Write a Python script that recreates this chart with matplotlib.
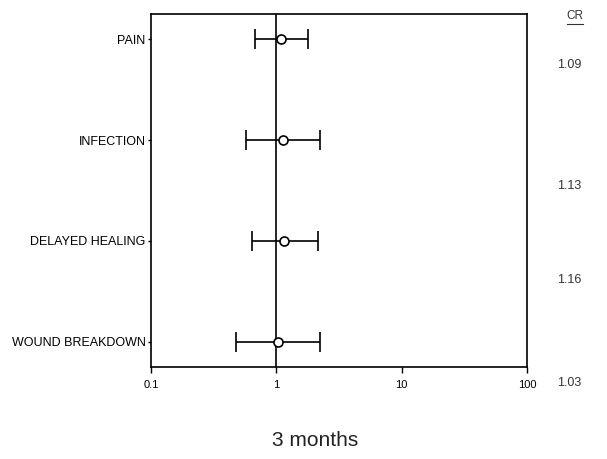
import matplotlib
matplotlib.use("Agg")
import matplotlib.pyplot as plt

plt.rcParams['font.family'] = ['Liberation Sans', 'DejaVu Sans']

# Data
categories = ["PAIN", "INFECTION", "DELAYED HEALING", "WOUND BREAKDOWN"]
odds_ratio = [1.09, 1.13, 1.16, 1.03]
ci_lower = [0.68, 0.575, 0.64, 0.48]
ci_upper = [1.80, 2.25, 2.13, 2.21]
cr_labels = ["1.09", "1.13", "1.16", "1.03"]
x_ticks = [0.1, 1, 10, 100]
x_tick_labels = ["0.1", "1", "10", "100"]
title_text = "3 months"

# layout offsets (rows) for the CR column
cr_offsets = [0.26, 0.46, 0.39, 0.41]

fig = plt.figure(figsize=(6.07, 4.59), dpi=100)
ax = fig.add_axes([0.2488, 0.2004, 0.6194, 0.7691])

ypos = list(range(len(categories)))
xerr = [[o - l for o, l in zip(odds_ratio, ci_lower)],
        [u - o for o, u in zip(odds_ratio, ci_upper)]]

ax.axvline(1, color='black', lw=1.2, zorder=1)
ax.errorbar(odds_ratio, ypos, xerr=xerr, fmt='o', color='black',
            ecolor='black', elinewidth=1.2, capsize=7.5, capthick=1.2,
            markerfacecolor='white', markeredgecolor='black',
            markersize=6.5, markeredgewidth=1.2, zorder=3)

ax.set_xscale('log')
ax.set_xlim(0.1, 100)
ax.set_ylim(3.25, -0.25)
ax.set_xticks(x_ticks)
ax.set_xticklabels(x_tick_labels, fontsize=8)
ax.minorticks_off()
ax.set_yticks(ypos)
ax.set_yticklabels(categories, fontsize=9)
ax.tick_params(axis='x', direction='out', length=4, width=1, pad=5)
ax.tick_params(axis='y', direction='out', length=2, width=1, pad=2)
for s in ax.spines.values():
    s.set_linewidth(1.2)

# CR column
fig.text(575 / 607, 1 - 16 / 459, "CR", fontsize=8.5, ha='center', va='center',
         color='#333333')
fig.add_artist(plt.Line2D([567 / 607, 583 / 607], [1 - 24 / 459, 1 - 24 / 459],
                          color='#333333', lw=0.8))
for y, off, lab in zip(ypos, cr_offsets, cr_labels):
    ax.text(1.08, y + off, lab, transform=ax.get_yaxis_transform(),
            fontsize=9, ha='left', va='center', color='#333333', clip_on=False)

fig.text(315 / 607, 1 - 440 / 459, title_text, fontsize=15, ha='center',
         va='center', color='#222222')

fig.savefig("out.png", dpi=100)
